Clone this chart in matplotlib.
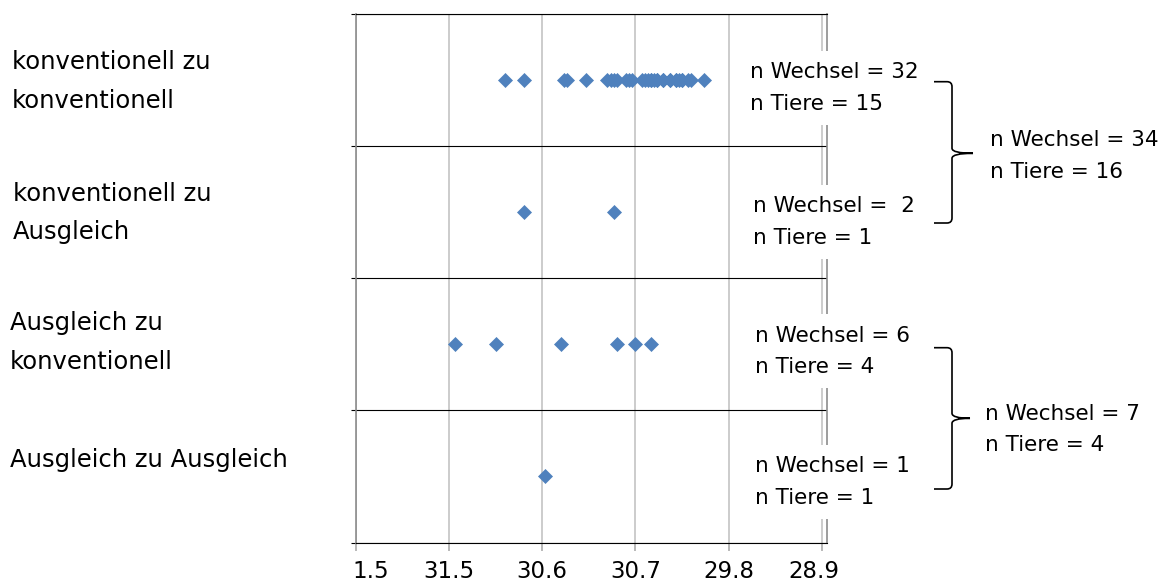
import matplotlib
matplotlib.use("Agg")
import matplotlib.pyplot as plt
import matplotlib.patches as patches
from matplotlib.path import Path
from matplotlib.transforms import ScaledTranslation

plt.rcParams['font.family'] = ['DejaVu Sans']

# --- Data (x = days after 1 May) ---
categories = ["konventionell zu\nkonventionell",
              "konventionell zu\nAusgleich",
              "Ausgleich zu\nkonventionell",
              "Ausgleich zu Ausgleich"]
konv_konv = [48, 54, 67, 68, 74, 81, 82, 83, 84, 87, 88, 89, 92, 93, 94, 95,
             95, 96, 97, 97, 99, 99, 101, 101, 103, 103, 104, 105, 105, 107, 108, 112]
konv_ausg = [54, 83]
ausg_konv = [32, 45, 66, 84, 90, 95]
ausg_ausg = [61]
tick_days = [0, 30, 60, 90, 120, 150]
tick_labels = ["1.5", "31.5", "30.6", "30.7", "29.8", "28.9"]
row_notes = ["n Wechsel = 32\nn Tiere = 15",
             "n Wechsel =  2\nn Tiere = 1",
             "n Wechsel = 6\nn Tiere = 4",
             "n Wechsel = 1\nn Tiere = 1"]
group_notes = ["n Wechsel = 34\nn Tiere = 16",
               "n Wechsel = 7\nn Tiere = 4"]

W, H = 1163, 587
fig = plt.figure(figsize=(W / 100, H / 100), dpi=100)


def fxy(x, y):
    # pixel position (from top-left) -> figure fraction
    return x / W, 1 - y / H


ax = fig.add_axes([356 / W, 1 - 542.5 / H, (827.3 - 356) / W, (542.5 - 14) / H])

series = [konv_konv, konv_ausg, ausg_konv, ausg_ausg]
for i, vals in enumerate(series):
    ypos = len(series) - i - 0.5
    ax.plot(vals, [ypos] * len(vals), linestyle='none', marker='D', ms=7.5,
            color='#4F81BD', mec='#4F81BD', mew=0.5, zorder=3)

ax.set_xlim(0, 151.8)
ax.set_ylim(0, len(series))
ax.set_xticks(tick_days)
ax.set_xticklabels(tick_labels)
ax.set_yticks(range(len(series) + 1))
ax.set_yticklabels([])
ax.grid(axis='x', color='#BFBFBF', lw=1.1)
ax.grid(axis='y', color='black', lw=0.8)
ax.set_axisbelow(True)
ax.tick_params(axis='x', direction='out', length=5.8, width=1.1, color='#A6A6A6',
               pad=7, labelsize=16.5)
ax.tick_params(axis='y', direction='out', length=3.6, width=0.8, color='black')
for s in ['top', 'bottom']:
    ax.spines[s].set_color('black')
    ax.spines[s].set_linewidth(0.8)
for s in ['left', 'right']:
    ax.spines[s].set_color('#8C8C8C')
    ax.spines[s].set_linewidth(1.2)

# edge tick labels are pushed inward like in the original
labs = ax.get_xticklabels()
labs[0].set_transform(labs[0].get_transform() + ScaledTranslation(0.15, 0, fig.dpi_scale_trans))
labs[-1].set_transform(labs[-1].get_transform() + ScaledTranslation(-0.08, 0, fig.dpi_scale_trans))

# --- Category labels on the left ---
cat_pos = [(12, 50), (13, 181.5), (10, 311), (10, 447.5)]
for lab, (x, y) in zip(categories, cat_pos):
    fig.text(*fxy(x, y), lab, ha='left', va='top', fontsize=17.5, linespacing=1.77)

# --- n annotations per row ---
note_pos = [(750.5, 62.5), (753, 196), (755, 325.5), (755, 456)]
for note, (x, y) in zip(row_notes, note_pos):
    fig.text(*fxy(x, y), note, ha='left', va='top', fontsize=15.5, linespacing=1.72,
             bbox=dict(fc='white', ec='none', pad=8), zorder=5)

# --- Braces grouping rows ---
def brace(x0, xv, xt, yt, ym, yb, r=5):
    pts = [(x0, yt), (xv - r, yt), (xv, yt), (xv, yt + r), (xv, ym - r),
           (xv, ym), (xt, ym), (xv, ym), (xv, ym + r), (xv, yb - r),
           (xv, yb), (xv - r, yb), (x0, yb)]
    codes = [Path.MOVETO, Path.LINETO, Path.CURVE3, Path.CURVE3, Path.LINETO,
             Path.CURVE3, Path.CURVE3, Path.CURVE3, Path.CURVE3, Path.LINETO,
             Path.CURVE3, Path.CURVE3, Path.LINETO]
    path = Path([fxy(x, y) for x, y in pts], codes)
    fig.add_artist(patches.PathPatch(path, fc='none', ec='black', lw=1.2,
                                     transform=fig.transFigure))


brace(934, 952, 973, 81.7, 153.3, 223)
brace(934, 952, 970, 347.7, 418.3, 489)

group_pos = [(990, 130.5), (985, 403.5)]
for note, (x, y) in zip(group_notes, group_pos):
    fig.text(*fxy(x, y), note, ha='left', va='top', fontsize=15.5, linespacing=1.72)

fig.savefig('out.png', dpi=100)
